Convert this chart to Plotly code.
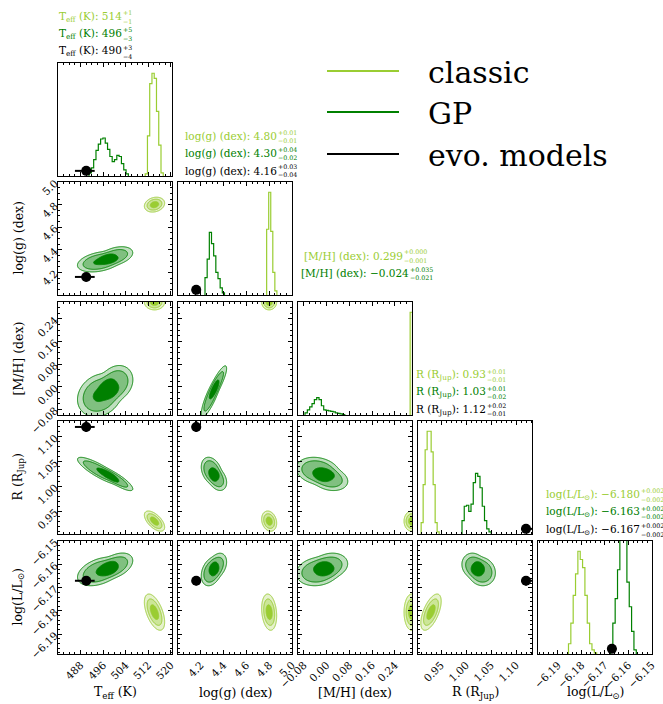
import numpy as np
import plotly.graph_objects as go

W, H = 663, 704
FONT = "DejaVu Serif"

# ---------------- parameters and axes ----------------
param_titles = ["T<sub>eff</sub> (K)", "log(g) (dex)", "[M/H] (dex)",
                "R (R<sub>Jup</sub>)", "log(L/L<sub>⊙</sub>)"]
axis_ranges = [[480.0, 520.4], [4.0, 5.0005], [-0.1, 0.3], [0.904, 1.132], [-6.1985, -6.1499]]
tick_values = [[488, 496, 504, 512, 520],
               [4.2, 4.4, 4.6, 4.8, 5.0],
               [-0.08, 0.0, 0.08, 0.16, 0.24],
               [0.95, 1.00, 1.05, 1.10],
               [-6.19, -6.18, -6.17, -6.16, -6.15]]
tick_labels = [["488", "496", "504", "512", "520"],
               ["4.2", "4.4", "4.6", "4.8", "5.0"],
               ["−0.08", "0.00", "0.08", "0.16", "0.24"],
               ["0.95", "1.00", "1.05", "1.10"],
               ["−6.19", "−6.18", "−6.17", "−6.16", "−6.15"]]
minor_start = [480, 4.0, -0.1, 0.9, -6.2]
minor_steps = [2, 0.05, 0.02, 0.01, 0.002]

# ---------------- 1D posteriors (step histograms) ----------------
# first bin edge, bin width and bar heights (tallest classic bar = 1)
classic_hist_start = [510.9, 4.778, 0.2935, 0.9103, -6.1855]
classic_hist_width = [0.8, 0.018, 0.008, 0.004, 0.001]
classic_hist_teff = [0.02, 0.39, 0.90, 1.0, 0.95, 0.63, 0.30, 0.03]
classic_hist_logg = [0.64, 1.0, 0.62, 0.22, 0.04]
classic_hist_mh = [1.0]
classic_hist_radius = [0.11, 0.48, 0.82, 1.0, 1.0, 0.80, 0.48, 0.11, 0.02]
classic_hist_logl = [0.10, 0.30, 0.57, 0.78, 1.0, 0.92, 0.84, 0.57, 0.30, 0.10, 0.04, 0.01]

gp_hist_start = [491.0, 4.237, -0.0754, 0.992, -6.1676]
gp_hist_width = [0.82, 0.019, 0.0082, 0.0045, 0.001]
gp_hist_teff = [0.03, 0.08, 0.16, 0.25, 0.31, 0.36, 0.37, 0.32, 0.26, 0.19, 0.14,
                0.16, 0.20, 0.19, 0.12, 0.06, 0.02]
gp_hist_logg = [0.17, 0.35, 0.61, 0.50, 0.38, 0.22, 0.16, 0.07, 0.02]
gp_hist_mh = [0.02, 0.05, 0.08, 0.11, 0.15, 0.17, 0.15, 0.09, 0.05, 0.045, 0.04,
              0.035, 0.03, 0.02, 0.015, 0.01, 0.005]
gp_hist_radius = [0.13, 0.27, 0.28, 0.22, 0.29, 0.50, 0.59, 0.56, 0.45, 0.27, 0.13, 0.05, 0.02]
gp_hist_logl = [0.05, 0.30, 0.54, 0.82, 1.25, 1.35, 1.22, 0.70, 0.46, 0.22, 0.04]

classic_hists = [classic_hist_teff, classic_hist_logg, classic_hist_mh,
                 classic_hist_radius, classic_hist_logl]
gp_hists = [gp_hist_teff, gp_hist_logg, gp_hist_mh, gp_hist_radius, gp_hist_logl]

# ---------------- 2D posteriors (smoothed blob descriptions of each run) ----------------
# sigma values give one third of the outermost contour's half-extent
classic_mean = [514.2, 4.800, 0.299, 0.930, -6.1805]
classic_sigma = [1.2, 0.022, 0.009, 0.0068, 0.0026]
classic_corr = [[1.0, 0.2, 0.0, -0.6, -0.55],
                [0.2, 1.0, 0.0, -0.2, -0.2],
                [0.0, 0.0, 1.0, 0.0, 0.0],
                [-0.6, -0.2, 0.0, 1.0, 0.6],
                [-0.55, -0.2, 0.0, 0.6, 1.0]]
classic_profile = 1.5

gp_weights = [0.65, 0.35]
gp_mean_a = [494.8, 4.295, -0.030, 1.031, -6.1630]
gp_mean_b = [500.5, 4.345, 0.012, 1.015, -6.1605]
gp_sigma_a = [2.7, 0.031, 0.026, 0.0095, 0.0021]
gp_sigma_b = [2.1, 0.029, 0.022, 0.0082, 0.0019]
gp_corr = [[1.0, 0.35, 0.2, -0.85, 0.4],
           [0.35, 1.0, 0.85, -0.3, 0.3],
           [0.2, 0.85, 1.0, -0.2, 0.15],
           [-0.85, -0.3, -0.2, 1.0, -0.1],
           [0.4, 0.3, 0.15, -0.1, 1.0]]
gp_profile = 2.0

# ---------------- evolutionary-model estimate ----------------
evo_value = [490.0, 4.16, None, 1.12, -6.167]
evo_err_plus = [3.0, 0.03, None, 0.02, 0.002]
evo_err_minus = [4.0, 0.04, None, 0.01, 0.002]

# ---------------- summary text above the diagonal ----------------
classic_median = ["514", "4.80", "0.299", "0.93", "−6.180"]
classic_plus = ["+1", "+0.01", "+0.000", "+0.01", "+0.002"]
classic_minus = ["−1", "−0.01", "−0.001", "−0.01", "−0.002"]
gp_median = ["496", "4.30", "−0.024", "1.03", "−6.163"]
gp_plus = ["+5", "+0.04", "+0.035", "+0.01", "+0.002"]
gp_minus = ["−3", "−0.02", "−0.021", "−0.02", "−0.002"]
evo_median = ["490", "4.16", None, "1.12", "−6.167"]
evo_plus = ["+3", "+0.03", None, "+0.02", "+0.002"]
evo_minus = ["−4", "−0.04", None, "−0.01", "−0.002"]

series_names = ["classic", "GP", "evo. models"]
C_CLASSIC = "#9acd32"
C_GP = "#008000"
C_EVO = "#000000"

# ---------------- layout geometry (pixels) ----------------
col_left = [58, 178, 298, 418, 538]
row_top = [63, 182, 302, 421, 541]
PW, PH = 114, 113
HIST_TOP = 1.1


def px(x):
    return x / W


def py(y):
    return 1 - y / H


def blend(rgb, a):
    return "rgb(%d,%d,%d)" % tuple(round(255 - a * (255 - c)) for c in rgb)


def outer_radius(beta, frac=0.989):
    """Radius (in scale units) enclosing `frac` of a 2D exp(-(r^2/2)^beta) blob."""
    u = np.linspace(0, 20, 200001)
    f = np.exp(-u ** beta)
    cum = np.cumsum(f)
    cum /= cum[-1]
    return np.sqrt(2 * u[np.searchsorted(cum, frac)])


def blob2(X, Y, mx, my, sx, sy, rho, beta):
    k = 3.0 / outer_radius(beta)
    sx, sy = sx * k, sy * k
    dx = (X - mx) / sx
    dy = (Y - my) / sy
    q = (dx * dx - 2 * rho * dx * dy + dy * dy) / (1 - rho * rho)
    return np.exp(-(0.5 * q) ** beta) / (sx * sy * np.sqrt(1 - rho * rho))


def level_map(D):
    """Convert a density grid into 'sigma' levels of enclosed probability."""
    flat = D.ravel()
    order = np.argsort(flat)[::-1]
    cum = np.cumsum(flat[order])
    cum /= cum[-1]
    F = np.empty_like(flat)
    F[order] = cum
    F = np.clip(F, 0, 1 - 1e-12)
    s = np.sqrt(-2 * np.log(1 - F))
    return np.clip(4 - s, -2, 4).reshape(D.shape)


def density_grid(i, j, comps, n=200):
    lo_x = min(m[i] - 5 * s[i] for _, m, s in comps)
    hi_x = max(m[i] + 5 * s[i] for _, m, s in comps)
    lo_y = min(m[j] - 5 * s[j] for _, m, s in comps)
    hi_y = max(m[j] + 5 * s[j] for _, m, s in comps)
    xs = np.linspace(lo_x, hi_x, n)
    ys = np.linspace(lo_y, hi_y, n)
    X, Y = np.meshgrid(xs, ys)
    return xs, ys, X, Y


fig = go.Figure()
layout = dict(width=W, height=H, margin=dict(l=0, r=0, t=0, b=0, autoexpand=False),
              paper_bgcolor="white", plot_bgcolor="white", showlegend=False,
              font=dict(family=FONT, size=11, color="black"))
annotations = []
shapes = []


def axis_names(k):
    return ("x" if k == 1 else "x%d" % k), ("y" if k == 1 else "y%d" % k)


runs = [
    ([(1.0, classic_mean, classic_sigma)], classic_corr, classic_profile, (154, 205, 50), C_CLASSIC),
    ([(gp_weights[0], gp_mean_a, gp_sigma_a), (gp_weights[1], gp_mean_b, gp_sigma_b)],
     gp_corr, gp_profile, (0, 128, 0), C_GP),
]

for r in range(5):
    for c in range(r + 1):
        k = r * 5 + c + 1
        xn, yn = axis_names(k)
        xl = col_left[c]
        yt = row_top[r]
        common = dict(showline=True, linecolor="black", linewidth=1, mirror="allticks",
                      showgrid=False, zeroline=False, ticks="inside", ticklen=4,
                      tickwidth=1, tickcolor="black", automargin=False,
                      tickfont=dict(family=FONT, size=10.5, color="black"))
        xa = dict(common, domain=[px(xl), px(xl + PW)], anchor=yn, range=axis_ranges[c],
                  tickmode="array", tickvals=tick_values[c], ticktext=tick_labels[c],
                  showticklabels=(r == 4), tickangle=-45,
                  minor=dict(ticks="inside", ticklen=2, tickcolor="black", tickwidth=1,
                             tick0=minor_start[c], dtick=minor_steps[c]))
        if r == c:
            ya = dict(common, domain=[py(yt + PH), py(yt)], anchor=xn, range=[0, HIST_TOP],
                      ticks="", showticklabels=False)
        else:
            ya = dict(common, domain=[py(yt + PH), py(yt)], anchor=xn, range=axis_ranges[r],
                      tickmode="array", tickvals=tick_values[r], ticktext=tick_labels[r],
                      showticklabels=(c == 0), tickangle=-45,
                      minor=dict(ticks="inside", ticklen=2, tickcolor="black", tickwidth=1,
                                 tick0=minor_start[r], dtick=minor_steps[r]))
        layout["xaxis" if k == 1 else "xaxis%d" % k] = xa
        layout["yaxis" if k == 1 else "yaxis%d" % k] = ya

        if r == c:
            # diagonal: step histograms
            for hs, st, wd, col in ((classic_hists[r], classic_hist_start[r], classic_hist_width[r], C_CLASSIC),
                                    (gp_hists[r], gp_hist_start[r], gp_hist_width[r], C_GP)):
                edges = [st + i * wd for i in range(len(hs) + 1)]
                xs = [edges[0]] + edges[:-1] + [edges[-1]]
                ys = [0] + list(hs) + [0]
                fig.add_trace(go.Scatter(x=xs, y=ys, mode="lines", line=dict(color=col, width=1.2, shape="hv"),
                                         xaxis=xn, yaxis=yn, hoverinfo="skip"))
            if evo_value[r] is not None:
                fig.add_trace(go.Scatter(x=[evo_value[r]], y=[0.05], mode="markers",
                                         marker=dict(color=C_EVO, size=10),
                                         error_x=dict(type="data", symmetric=False, array=[evo_err_plus[r]],
                                                      arrayminus=[evo_err_minus[r]], color=C_EVO,
                                                      thickness=2, width=0),
                                         xaxis=xn, yaxis=yn, cliponaxis=False, hoverinfo="skip"))
        else:
            i, j = c, r
            for comps, corr, beta, rgb, col in runs:
                xs, ys, X, Y = density_grid(i, j, comps)
                D = np.zeros_like(X)
                for w, m, s in comps:
                    D += w * blob2(X, Y, m[i], m[j], s[i], s[j], corr[i][j], beta)
                Z = level_map(D)
                fig.add_trace(go.Contour(
                    x=xs, y=ys, z=Z, xaxis=xn, yaxis=yn, autocontour=False,
                    contours=dict(start=1, end=3, size=1, coloring="fill", showlines=True),
                    colorscale=[[0, "rgba(255,255,255,0)"], [1 / 3, blend(rgb, 0.25)],
                                [2 / 3, blend(rgb, 0.5)], [1, blend(rgb, 1.0)]],
                    line=dict(color=col, width=1), showscale=False, hoverinfo="skip"))
            if evo_value[i] is not None and evo_value[j] is not None:
                fig.add_trace(go.Scatter(
                    x=[evo_value[i]], y=[evo_value[j]], mode="markers",
                    marker=dict(color=C_EVO, size=10),
                    error_x=dict(type="data", symmetric=False, array=[evo_err_plus[i]],
                                 arrayminus=[evo_err_minus[i]], color=C_EVO, thickness=2, width=0),
                    error_y=dict(type="data", symmetric=False, array=[evo_err_plus[j]],
                                 arrayminus=[evo_err_minus[j]], color=C_EVO, thickness=2, width=0),
                    xaxis=xn, yaxis=yn, cliponaxis=False, hoverinfo="skip"))

# axis labels
for c in range(5):
    annotations.append(dict(text=param_titles[c], x=px(col_left[c] + PW / 2), y=py(692),
                            xref="paper", yref="paper", showarrow=False, xanchor="center",
                            yanchor="middle", font=dict(family=FONT, size=12.5)))
for r in range(1, 5):
    annotations.append(dict(text=param_titles[r], x=px(18), y=py(row_top[r] + PH / 2),
                            xref="paper", yref="paper", showarrow=False, textangle=-90,
                            xanchor="center", yanchor="middle", font=dict(family=FONT, size=12.5)))

# summary text above each 1D posterior
script_x = [[122.0, 122.0, 122.0], [277.0, 277.0, 277.0], [403.0, 409.0, 0],
            [486.0, 486.0, 486.0], [639.5, 639.5, 639.5]]
line_offset = [46, 29, 11.5]
rows_text = [(classic_median, classic_plus, classic_minus, C_CLASSIC),
             (gp_median, gp_plus, gp_minus, C_GP),
             (evo_median, evo_plus, evo_minus, C_EVO)]
for p in range(5):
    for s, (med, plus, minus, col) in enumerate(rows_text):
        if med[p] is None:
            continue
        yc = row_top[p] - line_offset[s]
        xs_ = script_x[p][s]
        annotations.append(dict(text="%s: %s" % (param_titles[p], med[p]), x=px(xs_ + 1), y=py(yc),
                                xref="paper", yref="paper", showarrow=False, xanchor="right",
                                yanchor="middle", borderpad=0,
                                font=dict(family=FONT, size=10.5, color=col)))
        annotations.append(dict(text=plus[p], x=px(xs_), y=py(yc - 4), xref="paper",
                                yref="paper", showarrow=False, xanchor="left", yanchor="middle",
                                borderpad=0, font=dict(family=FONT, size=6.3, color=col)))
        annotations.append(dict(text=minus[p], x=px(xs_), y=py(yc + 4.5), xref="paper",
                                yref="paper", showarrow=False, xanchor="left", yanchor="middle",
                                borderpad=0, font=dict(family=FONT, size=6.3, color=col)))

# legend
legend_y = [71, 112, 154]
for name, col, ly in zip(series_names, [C_CLASSIC, C_GP, C_EVO], legend_y):
    shapes.append(dict(type="line", xref="paper", yref="paper", x0=px(327), x1=px(399),
                       y0=py(ly), y1=py(ly), line=dict(color=col, width=2)))
    annotations.append(dict(text=name, x=px(426), y=py(ly + 1), xref="paper", yref="paper",
                            showarrow=False, xanchor="left", yanchor="middle",
                            font=dict(family=FONT, size=30, color="black")))

layout["annotations"] = annotations
layout["shapes"] = shapes
fig.update_layout(**layout)
fig.write_html("out.html")
